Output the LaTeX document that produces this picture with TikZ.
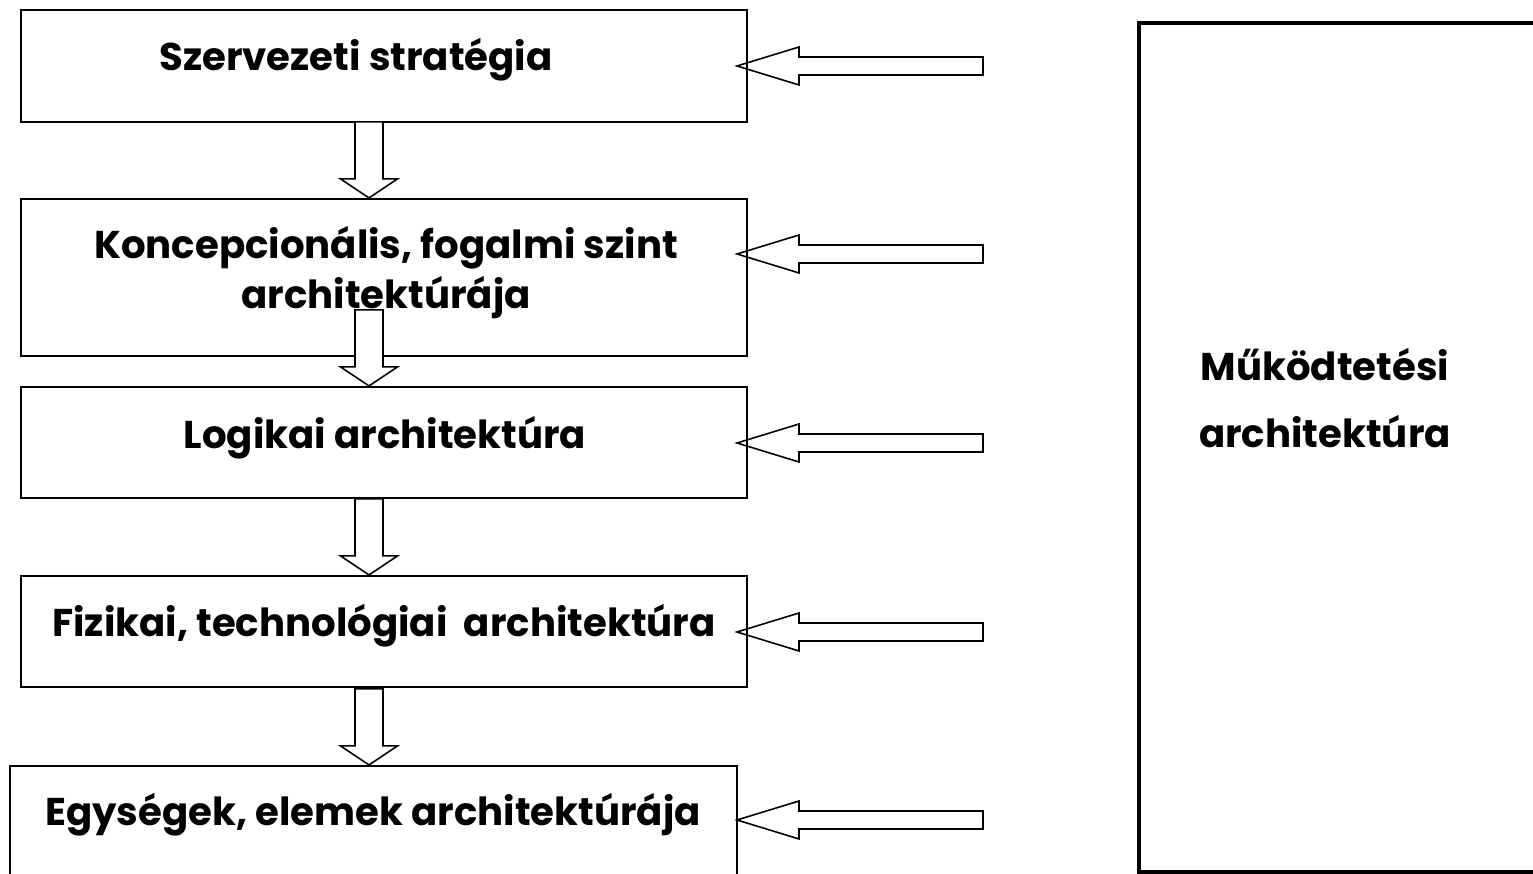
\documentclass[tikz,border=0pt]{standalone}
\usepackage{fontspec}
\setmainfont{Poppins}
\usetikzlibrary{calc}

\begin{document}
\begin{tikzpicture}[x=0.01cm, y=-0.01cm, >=stealth]

    \tikzset{%
    every tier/.style={
        draw,
        line width=0.6pt,
        inner sep=0pt
        },
    tier label/.style={
        font=\bfseries\fontsize{11}{14.2}\selectfont,
        align=center
        },
    block arrow/.style={
        draw,
        line width=0.45pt
        },
    }

    \useasboundingbox (0,0) rectangle (1533,874);
    \clip (0,0) rectangle (1533,874);

    % Side input arrows (drawn first, box borders go over them)
    \foreach \i/\y in {1/66,2/254,3/443,4/632,5/820} {
    \coordinate (in-\i) at (737,\y);
    \coordinate (src-\i) at (983,\y);
    \draw [block arrow] ($(src-\i)+(0,-9)$) -- ($(in-\i)+(62,-9)$) -- ($(in-\i)+(62,-19)$)
        -- (in-\i) -- ($(in-\i)+(62,19)$) -- ($(in-\i)+(62,9)$) -- ($(src-\i)+(0,9)$) -- cycle;
    }

    % Layer boxes
    \foreach \m/\cx/\cy/\w/\h in {1/384/66/726/112, 2/384/277.5/726/157, 3/384/442.5/726/111,
        4/384/631.5/726/111, 5/373.5/826/727/120}
    \node [every tier/.try, minimum width=\w*0.01cm, minimum height=\h*0.01cm] (tier-\m) at (\cx,\cy) {};

    % Layer labels
    \foreach \m/\cx/\cy/\l in {1/356/60/{Szervezeti stratégia},
        2/386/273/{Koncepcionális, fogalmi szint\\architektúrája},
        3/385/438/{Logikai architektúra},
        4/384/626/{Fizikai, technológiai\ \ architektúra},
        5/373/815/{Egységek, elemek architektúrája}}
    \node [tier label] (label-\m) at (\cx,\cy) {\l};

    % Operation box on the right
    \node [every tier/.try, line width=1.2pt, minimum width=401*0.01cm, minimum height=849*0.01cm] (ops) at (1339.5,447.5) {};
    \node [tier label, font=\bfseries\fontsize{11}{19}\selectfont] (ops-label) at (1325,398) {Működtetési\\architektúra};

    % Downward arrows between the layers
    \coordinate (spine) at (369,0);
    \foreach \b in {2,3,4,5} {
    \coordinate (down-\b) at (tier-\b.north -| spine);
    \draw [block arrow, fill=white] ($(down-\b)+(-14,-76)$) -- ($(down-\b)+(-14,-19)$) -- ($(down-\b)+(-28.5,-19)$)
        -- (down-\b) -- ($(down-\b)+(28.5,-19)$) -- ($(down-\b)+(14,-19)$) -- ($(down-\b)+(14,-76)$) -- cycle;
    }

\end{tikzpicture}
\end{document}
